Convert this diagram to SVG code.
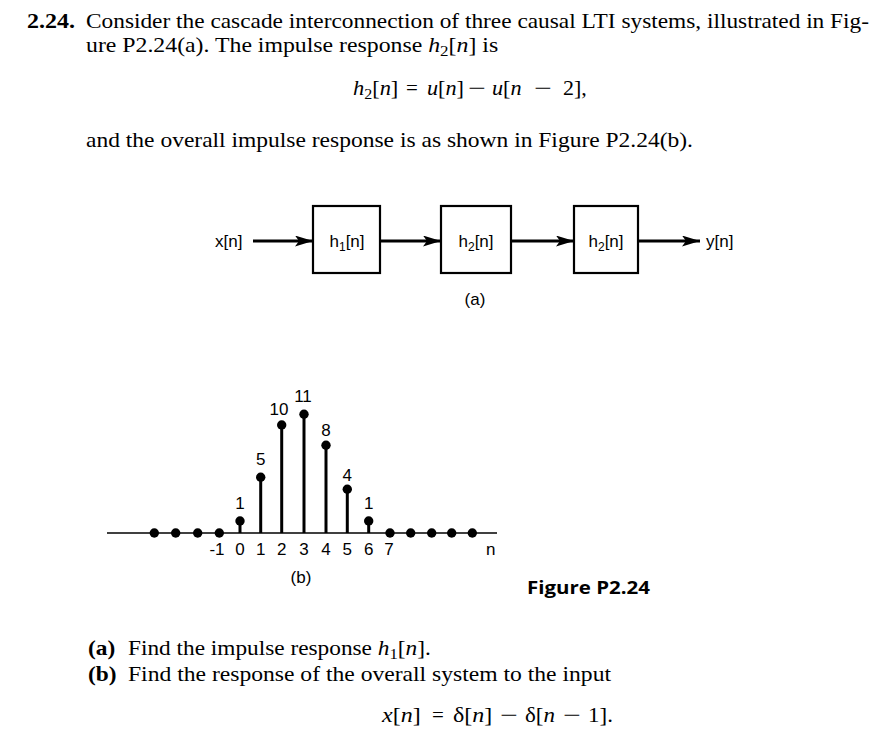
<svg xmlns="http://www.w3.org/2000/svg" width="891" height="746" viewBox="0 0 891 746">
<style>
.t{font-family:"Liberation Serif","Times New Roman",serif;font-size:21px;fill:#000}
.b{font-weight:bold}
.i{font-style:italic}
.s{font-family:"Liberation Sans",Arial,sans-serif;font-size:17px;fill:#000}
.n{font-family:"Liberation Sans",Arial,sans-serif;font-size:17px;fill:#000;text-anchor:middle}
.box{fill:#fff;stroke:#000;stroke-width:2.2}
.wire{fill:none;stroke:#000;stroke-width:3}
.stem{stroke:#000;stroke-width:3}
.dot{fill:#000}
.fig{font-family:"Open Sans","Liberation Sans",sans-serif;font-size:17px;font-weight:bold;fill:#000}
</style>
<defs>
<marker id="arr" markerUnits="userSpaceOnUse" markerWidth="20" markerHeight="12" refX="18" refY="5.5" orient="auto">
<path d="M0,0 L18,5.5 L0,11 L4,5.5 z" fill="#000"/>
</marker>
</defs>
<rect width="891" height="746" fill="#fff"/>

<g id="statement">
<text class="t b" x="27" y="28" textLength="48" lengthAdjust="spacingAndGlyphs">2.24.</text>
<text class="t" x="86" y="28" textLength="783" lengthAdjust="spacingAndGlyphs">Consider the cascade interconnection of three causal LTI systems, illustrated in Fig-</text>
<text class="t" transform="translate(86,52) scale(1.133,1)">ure P2.24(a). The impulse response <tspan class="i">h</tspan><tspan font-size="15" dy="4">2</tspan><tspan dy="-4">[</tspan><tspan class="i">n</tspan>] is</text>
<text class="t" transform="translate(353,95) scale(1.067,1)"><tspan class="i">h</tspan><tspan font-size="15" dy="4">2</tspan><tspan dy="-4">[</tspan><tspan class="i">n</tspan>]</text>
<text class="t" x="406" y="95">=</text>
<text class="t" transform="translate(427,95) scale(1.057,1)"><tspan class="i">u</tspan>[<tspan class="i">n</tspan>]</text>
<text class="t" transform="translate(468,95) scale(1.5,1)">−</text>
<text class="t" transform="translate(492,95) scale(1.057,1)"><tspan class="i">u</tspan>[<tspan class="i">n</tspan></text>
<text class="t" transform="translate(534,95) scale(1.5,1)">−</text>
<text class="t" transform="translate(563,95) scale(1.048,1)">2],</text>
<text class="t" x="86" y="147" textLength="607" lengthAdjust="spacingAndGlyphs">and the overall impulse response is as shown in Figure P2.24(b).</text>
</g>

<g id="connectors">
<line class="wire" x1="253" y1="241" x2="313" y2="241" marker-end="url(#arr)"/>
<line class="wire" x1="380" y1="241" x2="441" y2="241" marker-end="url(#arr)"/>
<line class="wire" x1="511" y1="241" x2="574" y2="241" marker-end="url(#arr)"/>
<line class="wire" x1="638" y1="241" x2="700" y2="241" marker-end="url(#arr)"/>
</g>

<g id="input"><text class="s" x="215" y="247">x[n]</text></g>
<g id="h1">
<rect class="box" x="313" y="206" width="67" height="67"/>
<text class="n" x="347" y="247">h<tspan font-size="12" dy="4">1</tspan><tspan dy="-4">[n]</tspan></text>
</g>
<g id="h2a">
<rect class="box" x="441" y="206" width="70" height="67"/>
<text class="n" x="476" y="247">h<tspan font-size="12" dy="4">2</tspan><tspan dy="-4">[n]</tspan></text>
</g>
<g id="h2b">
<rect class="box" x="574" y="206" width="64" height="67"/>
<text class="n" x="606" y="247">h<tspan font-size="12" dy="4">2</tspan><tspan dy="-4">[n]</tspan></text>
</g>
<g id="output"><text class="s" x="706" y="247">y[n]</text></g>
<g id="caption-a"><text class="n" x="475" y="305">(a)</text></g>

<g id="stemplot">
<line x1="107" y1="533" x2="497" y2="533" stroke="#000" stroke-width="1.5"/>
<g class="dot">
<circle cx="154.3" cy="533" r="4.7"/><circle cx="175.7" cy="533" r="4.7"/><circle cx="197.7" cy="533" r="4.7"/><circle cx="219.3" cy="533" r="4.7"/>
<circle cx="390" cy="533" r="4.7"/><circle cx="410.7" cy="533" r="4.7"/><circle cx="431.7" cy="533" r="4.7"/><circle cx="451.7" cy="533" r="4.7"/><circle cx="472.3" cy="533" r="4.7"/>
</g>
<line class="stem" x1="240" y1="533" x2="240" y2="521"/><circle class="dot" cx="240" cy="521" r="4.7"/>
<line class="stem" x1="260.7" y1="533" x2="260.7" y2="477.3"/><circle class="dot" cx="260.7" cy="477.3" r="4.7"/>
<line class="stem" x1="281.7" y1="533" x2="281.7" y2="425"/><circle class="dot" cx="281.7" cy="425" r="4.7"/>
<line class="stem" x1="304" y1="533" x2="304" y2="414.3"/><circle class="dot" cx="304" cy="414.3" r="4.7"/>
<line class="stem" x1="326" y1="533" x2="326" y2="445.3"/><circle class="dot" cx="326" cy="445.3" r="4.7"/>
<line class="stem" x1="347.3" y1="533" x2="347.3" y2="489.3"/><circle class="dot" cx="347.3" cy="489.3" r="4.7"/>
<line class="stem" x1="368.7" y1="533" x2="368.7" y2="521"/><circle class="dot" cx="368.7" cy="521" r="4.7"/>
<text class="n" x="240" y="509">1</text>
<text class="n" x="260.7" y="465">5</text>
<text class="n" x="279" y="415">10</text>
<text class="n" x="303" y="402">11</text>
<text class="n" x="326" y="436">8</text>
<text class="n" x="347.3" y="481">4</text>
<text class="n" x="368.7" y="509">1</text>
<text class="s" x="224.5" y="555" text-anchor="end">-1</text>
<text class="n" x="240" y="555">0</text>
<text class="n" x="260.7" y="555">1</text>
<text class="n" x="281.7" y="555">2</text>
<text class="n" x="304" y="555">3</text>
<text class="n" x="326" y="555">4</text>
<text class="n" x="347.3" y="555">5</text>
<text class="n" x="368.7" y="555">6</text>
<text class="n" x="389" y="555">7</text>
<text class="n" x="490.7" y="555">n</text>
<text class="n" x="301" y="583">(b)</text>
</g>

<g id="figure-label"><text class="fig" x="527" y="594" textLength="123" lengthAdjust="spacingAndGlyphs">Figure P2.24</text></g>

<g id="questions">
<text class="t b" transform="translate(88,655) scale(1.114,1)">(a)</text>
<text class="t" transform="translate(128,655) scale(1.11,1)">Find the impulse response <tspan class="i">h</tspan><tspan font-size="15" dy="4">1</tspan><tspan dy="-4">[</tspan><tspan class="i">n</tspan>].</text>
<text class="t b" transform="translate(88,681) scale(1.114,1)">(b)</text>
<text class="t" x="128" y="681" textLength="483" lengthAdjust="spacingAndGlyphs">Find the response of the overall system to the input</text>
<text class="t" transform="translate(382,722) scale(1.143,1)"><tspan class="i">x</tspan>[<tspan class="i">n</tspan>]</text>
<text class="t" x="432" y="722">=</text>
<text class="t" transform="translate(453,722) scale(1.143,1)">δ[<tspan class="i">n</tspan>]</text>
<text class="t" transform="translate(500,722) scale(1.5,1)">−</text>
<text class="t" transform="translate(525,722) scale(1.095,1)">δ[<tspan class="i">n</tspan></text>
<text class="t" transform="translate(563,722) scale(1.5,1)">−</text>
<text class="t" transform="translate(588,722) scale(1.095,1)">1].</text>
</g>
</svg>
